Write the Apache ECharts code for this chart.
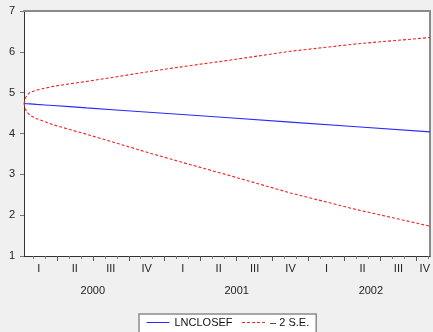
<!DOCTYPE html>
<html>
<head>
<meta charset="utf-8">
<script src="https://cdn.jsdelivr.net/npm/echarts@6/dist/echarts.min.js"></script>
<style>
html,body{margin:0;padding:0;background:#f0f0f0;}
#c{width:433px;height:332px;}
</style>
</head>
<body>
<div id="c"></div>
<script>
// x positions in months since Jan 2000 (0 = start of Jan 2000)
var months   = [0.26, 0.37, 0.48, 0.76, 1.31, 2.01, 2.69, 4.08, 5.47, 8.23, 11.00, 13.77, 17.37, 22.49, 28.02, 34.14];
var forecast = [4.735, 4.733, 4.730, 4.725, 4.713, 4.699, 4.685, 4.657, 4.628, 4.571, 4.515, 4.458, 4.384, 4.279, 4.166, 4.040];
var upper    = [4.735, 4.853, 4.930, 5.005, 5.063, 5.109, 5.155, 5.217, 5.273, 5.401, 5.530, 5.648, 5.794, 6.014, 6.196, 6.350];
var lower    = [4.735, 4.613, 4.530, 4.445, 4.363, 4.289, 4.215, 4.097, 3.983, 3.741, 3.500, 3.268, 2.974, 2.544, 2.136, 1.730];

var quarterLabelPos = [1.5, 4.5, 7.5, 10.5, 13.5, 16.5, 19.5, 22.5, 25.5, 28.5, 31.5, 33.7];
var quarterNames = ['I', 'II', 'III', 'IV'];
var yearLabelPos = [6, 18, 29.2];
var majorTicks = [3, 6, 9, 12, 15, 18, 21, 24, 27, 30, 33];
var minorTicks = [1, 2, 4, 5, 7, 8, 10, 11, 13, 14, 16, 17, 19, 20, 22, 23, 25, 26, 28, 29, 31, 32, 34];
var yTicks = [1, 2, 3, 4, 5, 6, 7];
var xMin = 0.26, xMax = 34.14;

function pairs(xs, ys) { return xs.map(function (x, i) { return [x, ys[i]]; }); }

var FONT = "'Liberation Sans', Arial, sans-serif";
var chart = echarts.init(document.getElementById('c'), null, {renderer: 'canvas'});
var seName = '\u2013 2 S.E.';

chart.setOption({
  backgroundColor: '#f0f0f0',
  animation: false,
  textStyle: {fontFamily: FONT},
  grid: {left: 24, right: 1, top: 11, bottom: 76, show: true, backgroundColor: '#ffffff', borderWidth: 0},
  legend: {
    left: 139, top: 314,
    padding: [3, 7, 8, 7],
    borderColor: '#8a8a8a', borderWidth: 1.5, backgroundColor: '#ffffff', borderRadius: 0,
    itemWidth: 23, itemHeight: 10, itemGap: 9,
    itemStyle: {opacity: 0},
    lineStyle: {width: 1},
    textStyle: {fontSize: 11, color: '#111', fontFamily: FONT},
    data: ['LNCLOSEF', seName]
  },
  xAxis: [
    {
      type: 'value', min: xMin, max: xMax, position: 'bottom',
      axisLine: {show: true, onZero: false, lineStyle: {color: '#333', width: 1}},
      axisTick: {show: true, length: 5, lineStyle: {color: '#555'}, customValues: majorTicks},
      axisLabel: {show: true, margin: 7, fontSize: 11, color: '#222', fontFamily: FONT,
        customValues: quarterLabelPos, hideOverlap: false, showMinLabel: true, showMaxLabel: true,
        formatter: function (v) { return quarterNames[Math.floor(v / 3) % 4]; }},
      splitLine: {show: false}
    },
    {
      type: 'value', min: xMin, max: xMax, position: 'bottom',
      axisLine: {show: false, onZero: false},
      axisTick: {show: true, length: 3, lineStyle: {color: '#777'}, customValues: minorTicks},
      axisLabel: {show: false},
      splitLine: {show: false}
    },
    {
      type: 'value', min: xMin, max: xMax, position: 'bottom',
      axisLine: {show: false, onZero: false},
      axisTick: {show: false},
      axisLabel: {show: true, margin: 29, fontSize: 11, color: '#222', fontFamily: FONT,
        customValues: yearLabelPos, hideOverlap: false,
        formatter: function (v) { return String(2000 + Math.floor(v / 12)); }},
      splitLine: {show: false}
    },
    {
      type: 'value', min: xMin, max: xMax, position: 'top',
      axisLine: {show: true, onZero: false, lineStyle: {color: '#8a8a8a', width: 2}},
      axisTick: {show: false}, axisLabel: {show: false}, splitLine: {show: false}
    }
  ],
  yAxis: [
    {
      type: 'value', min: 1, max: 7, interval: 1, position: 'left',
      axisLine: {show: true, onZero: false, lineStyle: {color: '#333', width: 1}},
      axisTick: {show: true, length: 4, lineStyle: {color: '#777'}, customValues: yTicks},
      axisLabel: {margin: 9, fontSize: 11, color: '#222', fontFamily: FONT, customValues: yTicks},
      splitLine: {show: false}
    },
    {
      type: 'value', min: 1, max: 7, position: 'right',
      axisLine: {show: true, onZero: false, lineStyle: {color: '#8a8a8a', width: 2}},
      axisTick: {show: false}, axisLabel: {show: false}, splitLine: {show: false}
    }
  ],
  series: [
    {
      name: 'LNCLOSEF', type: 'line', data: pairs(months, forecast),
      symbol: 'none', smooth: false,
      lineStyle: {color: '#2a2aff', width: 1.1}, itemStyle: {color: '#2a2aff'}
    },
    {
      name: seName, type: 'line', data: pairs(months, upper),
      symbol: 'none', smooth: false,
      lineStyle: {color: '#ee2222', width: 1.1, type: [3, 2]}, itemStyle: {color: '#ee2222'}
    },
    {
      name: seName, type: 'line', data: pairs(months, lower),
      symbol: 'none', smooth: false,
      lineStyle: {color: '#ee2222', width: 1.1, type: [3, 2]}, itemStyle: {color: '#ee2222'}
    }
  ]
});
</script>
</body>
</html>
